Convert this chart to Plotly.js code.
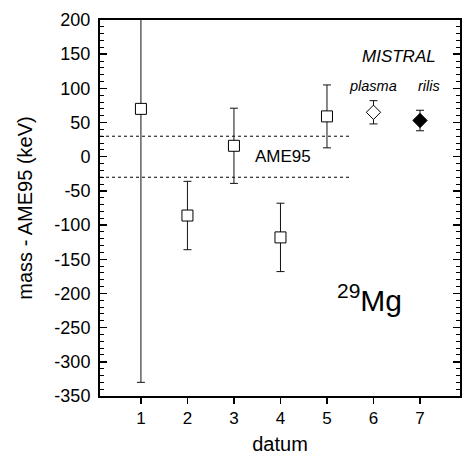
<!DOCTYPE html>
<html>
<head>
<meta charset="utf-8">
<script src="https://cdn.plot.ly/plotly-3.0.1.min.js"></script>
<style>html,body{margin:0;padding:0;background:#fff;}#chart{width:462px;height:457px;}</style>
</head>
<body>
<div id="chart"></div>
<script>
// Literature values (open squares)
const litX = [1, 2, 3, 4, 5];
const litY = [70, -86, 16, -118, 59];
const litErr = [400, 50, 55, 50, 46];
// MISTRAL plasma (open diamond)
const plasmaX = [6];
const plasmaY = [65];
const plasmaErr = [17];
// MISTRAL rilis (filled diamond)
const rilisX = [7];
const rilisY = [53];
const rilisErr = [15];
// AME95 band
const ameBandX = [0.12, 5.5];
const ameUpper = [30, 30];
const ameLower = [-30, -30];
const xTicks = [1, 2, 3, 4, 5, 6, 7];
const yTicks = [200, 150, 100, 50, 0, -50, -100, -150, -200, -250, -300, -350];

const font = 'Liberation Sans, Arial, sans-serif';
const errStyle = {type: 'data', visible: true, thickness: 1, width: 4, color: '#111'};

const traces = [
  {x: ameBandX, y: ameUpper, mode: 'lines', line: {color: '#000', width: 1, dash: 'dot'}, hoverinfo: 'skip'},
  {x: ameBandX, y: ameLower, mode: 'lines', line: {color: '#000', width: 1, dash: 'dot'}, hoverinfo: 'skip'},
  {x: litX, y: litY, mode: 'markers', error_y: Object.assign({array: litErr}, errStyle),
   marker: {symbol: 'square', size: 11, color: '#fff', line: {color: '#000', width: 1}}},
  {x: plasmaX, y: plasmaY, mode: 'markers', error_y: Object.assign({array: plasmaErr}, errStyle),
   marker: {symbol: 'diamond', size: 11, color: '#fff', line: {color: '#000', width: 1}}},
  {x: rilisX, y: rilisY, mode: 'markers', error_y: Object.assign({array: rilisErr}, errStyle),
   marker: {symbol: 'diamond', size: 11, color: '#000', line: {color: '#000', width: 1}}}
];

const layout = {
  width: 462, height: 457,
  margin: {l: 100, r: 2, t: 20, b: 61},
  paper_bgcolor: '#fff', plot_bgcolor: '#fff',
  showlegend: false,
  font: {family: font, color: '#000', size: 18},
  xaxis: {
    range: [0.12, 7.86], tickvals: xTicks, ticktext: xTicks.map(String),
    ticks: 'outside', ticklen: 6, tickwidth: 1.5, tickcolor: '#000',
    showline: true, linecolor: '#000', linewidth: 2, mirror: true,
    showgrid: false, zeroline: false,
    tickfont: {size: 17},
    title: {text: 'datum', font: {size: 20}, standoff: 10}
  },
  yaxis: {
    range: [-350, 200], tickvals: yTicks, ticktext: yTicks.map(String),
    ticks: 'inside', ticklen: 7, tickwidth: 1.5, tickcolor: '#000',
    ticklabelstandoff: 4,
    minor: {dtick: 10, tick0: 0, ticks: 'inside', ticklen: 4, tickwidth: 1, tickcolor: '#000', showgrid: false},
    showline: true, linecolor: '#000', linewidth: 2, mirror: 'allticks',
    showgrid: false, zeroline: false,
    tickfont: {size: 18},
    title: {text: 'mass - AME95 (keV)', font: {size: 20}, standoff: 16}
  },
  annotations: [
    {x: 4.05, y: 0, xref: 'x', yref: 'y', text: 'AME95', showarrow: false, font: {size: 17}},
    {x: 6.55, y: 146, xref: 'x', yref: 'y', text: '<i>MISTRAL</i>', showarrow: false, font: {size: 17}},
    {x: 6.0, y: 104, xref: 'x', yref: 'y', text: '<i>plasma</i>', showarrow: false, font: {size: 14.5}},
    {x: 7.2, y: 104, xref: 'x', yref: 'y', text: '<i>rilis</i>', showarrow: false, font: {size: 14.5}},
    {x: 5.92, y: -207, xref: 'x', yref: 'y', text: '<sup>29</sup>Mg', showarrow: false, font: {size: 30}}
  ]
};

Plotly.newPlot('chart', traces, layout, {staticPlot: true, displayModeBar: false});
</script>
</body>
</html>
